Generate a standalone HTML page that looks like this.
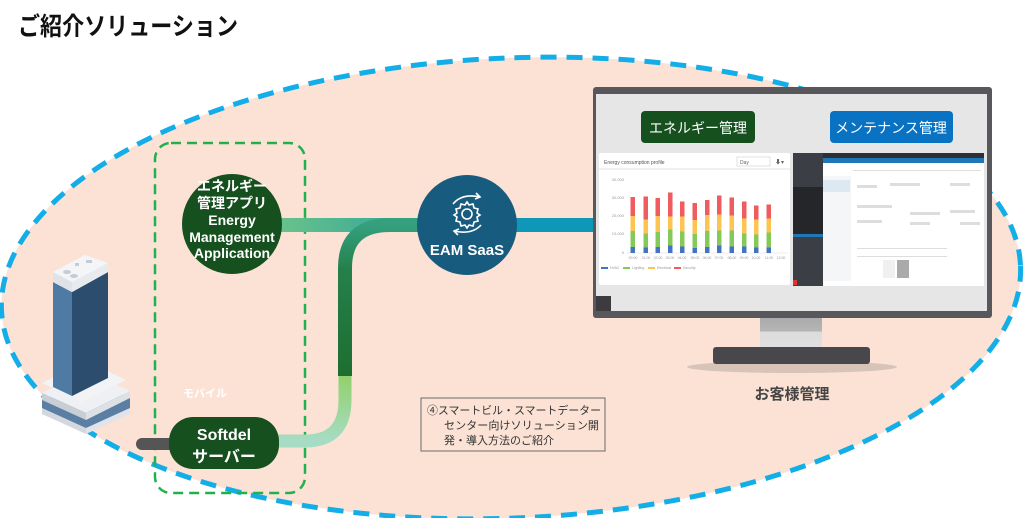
<!DOCTYPE html>
<html><head><meta charset="utf-8"><style>
html,body{margin:0;padding:0;background:#fff;width:1024px;height:518px;overflow:hidden;}
svg{display:block;}
text{font-family:"Liberation Sans","Noto Sans CJK JP",sans-serif;}
</style></head><body>
<svg width="1024" height="518" viewBox="0 0 1024 518" xmlns="http://www.w3.org/2000/svg">
<defs>
<linearGradient id="gTop" x1="0" x2="1" y1="0" y2="0">
<stop offset="0" stop-color="#6cc38a"/><stop offset="1" stop-color="#2aa39c"/></linearGradient>
<linearGradient id="gVert" x1="0" x2="0" y1="0" y2="1">
<stop offset="0" stop-color="#35a07e"/><stop offset="0.3" stop-color="#24804a"/><stop offset="1" stop-color="#1e6e30"/></linearGradient>
<linearGradient id="gBot" x1="0" x2="0" y1="0" y2="1">
<stop offset="0" stop-color="#93d06c"/><stop offset="1" stop-color="#a6dcc4"/></linearGradient>
<linearGradient id="neck" x1="0" x2="0" y1="0" y2="1">
<stop offset="0" stop-color="#aaaaaa"/><stop offset="0.45" stop-color="#b5b5b5"/><stop offset="0.46" stop-color="#dcdcdc"/><stop offset="1" stop-color="#e0e0e0"/></linearGradient>
</defs>

<text x="18" y="35" font-size="25" font-weight="bold" fill="#111" textLength="220" lengthAdjust="spacingAndGlyphs">ご紹介ソリューション</text>

<ellipse cx="511" cy="288" rx="510" ry="230" transform="rotate(-2.5 511 288)" fill="#fbe2d5" stroke="#13aee8" stroke-width="5" stroke-dasharray="16 10"/>

<!-- green dashed box -->
<rect x="155" y="143" width="150" height="350" rx="16" fill="none" stroke="#22b04c" stroke-width="2.5" stroke-dasharray="10 6"/>

<!-- connectors -->
<rect x="275" y="218" width="150" height="14" fill="url(#gTop)"/>
<path d="M345 376 V268 Q345 225 390 225 H425" fill="none" stroke="url(#gVert)" stroke-width="14"/>
<path d="M345 376 V400 Q345 441 305 441 H275" fill="none" stroke="url(#gBot)" stroke-width="13"/>
<rect x="510" y="218" width="90" height="14" fill="#0f97b7"/>

<!-- energy app circle -->
<circle cx="232" cy="224" r="50" fill="#17501f"/>
<g fill="#fff" font-size="14" font-weight="bold" text-anchor="middle">
<text x="232" y="191">エネルギー</text>
<text x="232" y="208">管理アプリ</text>
<text x="232" y="225">Energy</text>
<text x="232" y="242">Management</text>
<text x="232" y="258">Application</text>
</g>

<text x="183" y="397" font-size="11" font-weight="bold" fill="#fff">モバイル</text>

<!-- softdel -->
<rect x="136" y="438" width="40" height="12" rx="6" fill="#555"/>
<rect x="169" y="417" width="110" height="52" rx="24" fill="#17501f"/>
<text x="224" y="440" font-size="16" font-weight="bold" fill="#fff" text-anchor="middle">Softdel</text>
<text x="224" y="462" font-size="16" font-weight="bold" fill="#fff" text-anchor="middle">サーバー</text>

<!-- EAM -->
<circle cx="467" cy="225" r="50" fill="#175c7e"/>
<g stroke="#fff" stroke-width="1.6" fill="none">
<circle cx="467" cy="214" r="5"/>
<path d="M467 202 l2 3 4-1 1 4 4 1 -1 4 3 2 -3 2 1 4 -4 1 -1 4 -4 -1 -2 3 -2 -3 -4 1 -1 -4 -4 -1 1 -4 -3 -2 3 -2 -1 -4 4 -1 1 -4 4 1z"/>
<path d="M453 204 Q462 193 480 197"/><path d="M476 193 l4 4 -5 2"/>
<path d="M481 225 Q472 235 454 231"/><path d="M458 235 l-4 -4 5 -2"/>
</g>
<text x="467" y="255" font-size="15" font-weight="bold" fill="#fff" text-anchor="middle">EAM SaaS</text>

<!-- building -->
<g>
<polygon points="42,400 86,378 130,398 130,412 86,432 42,414" fill="#5a7fa3"/>
<polygon points="42,393 86,371 130,391 86,413" fill="#eef0f3"/>
<polygon points="42,393 86,413 86,420 42,400" fill="#c9ced6"/>
<polygon points="86,413 130,391 130,398 86,420" fill="#dde1e6"/>
<polygon points="42,408 86,428 86,434 42,414" fill="#d4d8de"/>
<polygon points="86,428 130,408 130,414 86,434" fill="#e0e4ea"/>
<polygon points="42,383 86,361 126,380 82,402" fill="#f2f3f5"/>
<polygon points="53,282 72,292 72,396 53,387" fill="#4e7aa4"/>
<polygon points="72,292 108,272 108,378 72,396" fill="#2d4d6e"/>
<polygon points="53,272 85,255 108,263 108,272 72,292 53,282" fill="#f4f5f7"/>
<polygon points="53,272 72,282 72,292 53,282" fill="#dfe3e8"/>
<polygon points="72,282 108,263 108,272 72,292" fill="#e7eaee"/>
<ellipse cx="67" cy="272" rx="4" ry="2" fill="#c7ccd3"/>
<ellipse cx="74" cy="276" rx="4" ry="2" fill="#c7ccd3"/>
<rect x="75" y="263" width="4" height="3" fill="#c7ccd3"/><rect x="86" y="260" width="6" height="3" fill="#c7ccd3"/>
</g>

<!-- monitor -->
<ellipse cx="792" cy="367" rx="105" ry="6" fill="#c9b7ad" opacity="0.7"/>
<rect x="760" y="317" width="62" height="32" fill="url(#neck)"/>
<rect x="713" y="347" width="157" height="17" rx="3" fill="#48484c"/>
<rect x="593" y="87" width="399" height="231" rx="3" fill="#58585c"/>
<rect x="596" y="94" width="391" height="217" fill="#e6e6e6"/>
<rect x="596" y="296" width="15" height="15" fill="#3c3c40"/>
<rect x="641" y="111" width="114" height="32" rx="4" fill="#17501f"/>
<text x="698" y="133" font-size="14" fill="#fff" text-anchor="middle">エネルギー管理</text>
<rect x="830" y="111" width="123" height="32" rx="4" fill="#0a72c2"/>
<text x="891" y="133" font-size="14" fill="#fff" text-anchor="middle">メンテナンス管理</text>

<!-- chart panel -->
<rect x="599" y="153" width="191" height="132" rx="2" fill="#fff"/>
<line x1="599" y1="169" x2="790" y2="169" stroke="#e2e2e2"/>
<text x="604" y="164" font-size="5" fill="#555">Energy consumption profile</text>
<rect x="737" y="157" width="33" height="9" fill="#fff" stroke="#ccc" stroke-width="0.6"/>
<text x="740" y="164" font-size="5" fill="#666">Day</text>
<text x="775" y="164" font-size="6" fill="#666">⬇▾</text>
<g font-size="4" fill="#999" text-anchor="end">
<text x="624" y="181">40,000</text><text x="624" y="199">30,000</text><text x="624" y="217">20,000</text><text x="624" y="235">10,000</text><text x="624" y="254">0</text>
</g>
<line x1="627" y1="253" x2="788" y2="253" stroke="#ddd" stroke-width="0.5"/>
<g>
<rect x="630.5" y="197" width="4.5" height="19" fill="#ef5b5e"/><rect x="630.5" y="216" width="4.5" height="15" fill="#fdc452"/><rect x="630.5" y="231" width="4.5" height="16" fill="#86c95b"/><rect x="630.5" y="247" width="4.5" height="6" fill="#4473c4"/>
<rect x="643.5" y="196.5" width="4.5" height="23" fill="#ef5b5e"/><rect x="643.5" y="219.5" width="4.5" height="14" fill="#fdc452"/><rect x="643.5" y="233.5" width="4.5" height="14" fill="#86c95b"/><rect x="643.5" y="247.5" width="4.5" height="5.5" fill="#4473c4"/>
<rect x="655.5" y="198" width="4.5" height="18" fill="#ef5b5e"/><rect x="655.5" y="216" width="4.5" height="16" fill="#fdc452"/><rect x="655.5" y="232" width="4.5" height="15" fill="#86c95b"/><rect x="655.5" y="247" width="4.5" height="6" fill="#4473c4"/>
<rect x="668" y="192.5" width="4.5" height="24" fill="#ef5b5e"/><rect x="668" y="216.5" width="4.5" height="13" fill="#fdc452"/><rect x="668" y="229.5" width="4.5" height="16" fill="#86c95b"/><rect x="668" y="245.5" width="4.5" height="7.5" fill="#4473c4"/>
<rect x="680" y="201.5" width="4.5" height="15" fill="#ef5b5e"/><rect x="680" y="216.5" width="4.5" height="15" fill="#fdc452"/><rect x="680" y="231.5" width="4.5" height="15" fill="#86c95b"/><rect x="680" y="246.5" width="4.5" height="6.5" fill="#4473c4"/>
<rect x="692.5" y="203" width="4.5" height="17" fill="#ef5b5e"/><rect x="692.5" y="220" width="4.5" height="14" fill="#fdc452"/><rect x="692.5" y="234" width="4.5" height="14" fill="#86c95b"/><rect x="692.5" y="248" width="4.5" height="5" fill="#4473c4"/>
<rect x="705" y="200" width="4.5" height="15" fill="#ef5b5e"/><rect x="705" y="215" width="4.5" height="16" fill="#fdc452"/><rect x="705" y="231" width="4.5" height="16" fill="#86c95b"/><rect x="705" y="247" width="4.5" height="6" fill="#4473c4"/>
<rect x="717" y="195.5" width="4.5" height="19" fill="#ef5b5e"/><rect x="717" y="214.5" width="4.5" height="16" fill="#fdc452"/><rect x="717" y="230.5" width="4.5" height="15" fill="#86c95b"/><rect x="717" y="245.5" width="4.5" height="7.5" fill="#4473c4"/>
<rect x="729.5" y="197.5" width="4.5" height="18" fill="#ef5b5e"/><rect x="729.5" y="215.5" width="4.5" height="15" fill="#fdc452"/><rect x="729.5" y="230.5" width="4.5" height="16" fill="#86c95b"/><rect x="729.5" y="246.5" width="4.5" height="6.5" fill="#4473c4"/>
<rect x="742" y="201.5" width="4.5" height="17" fill="#ef5b5e"/><rect x="742" y="218.5" width="4.5" height="15" fill="#fdc452"/><rect x="742" y="233.5" width="4.5" height="13" fill="#86c95b"/><rect x="742" y="246.5" width="4.5" height="6.5" fill="#4473c4"/>
<rect x="754" y="205.5" width="4.5" height="14" fill="#ef5b5e"/><rect x="754" y="219.5" width="4.5" height="15" fill="#fdc452"/><rect x="754" y="234.5" width="4.5" height="13" fill="#86c95b"/><rect x="754" y="247.5" width="4.5" height="5.5" fill="#4473c4"/>
<rect x="766.5" y="204.5" width="4.5" height="14" fill="#ef5b5e"/><rect x="766.5" y="218.5" width="4.5" height="14" fill="#fdc452"/><rect x="766.5" y="232.5" width="4.5" height="15" fill="#86c95b"/><rect x="766.5" y="247.5" width="4.5" height="5.5" fill="#4473c4"/>
</g>
<g font-size="3.5" fill="#999" text-anchor="middle">
<text x="633" y="259">00:00</text><text x="646" y="259">01:00</text><text x="658" y="259">02:00</text><text x="670" y="259">03:00</text><text x="682" y="259">04:00</text><text x="695" y="259">05:00</text><text x="707" y="259">06:00</text><text x="719" y="259">07:00</text><text x="732" y="259">08:00</text><text x="744" y="259">09:00</text><text x="756" y="259">10:00</text><text x="769" y="259">11:00</text><text x="781" y="259">12:00</text>
</g>
<rect x="601" y="267" width="7" height="2" fill="#4473c4"/><rect x="623" y="267" width="7" height="2" fill="#86c95b"/><rect x="648" y="267" width="7" height="2" fill="#fdc452"/><rect x="674" y="267" width="7" height="2" fill="#ef5b5e"/>
<g font-size="3.5" fill="#999"><text x="610" y="269">HVAC</text><text x="632" y="269">Lighting</text><text x="657" y="269">Electrical</text><text x="683" y="269">Security</text></g>

<!-- app screenshot -->
<rect x="793" y="153" width="191" height="133" fill="#fff"/>
<rect x="793" y="153" width="191" height="5" fill="#2e3035"/>
<rect x="793" y="153" width="30" height="133" fill="#3b3e44"/>
<rect x="793" y="187" width="30" height="47" fill="#24262a"/>
<rect x="793" y="234" width="30" height="3" fill="#1e78b8"/>
<rect x="793" y="280" width="4" height="5" fill="#d33"/>
<rect x="823" y="158" width="161" height="5" fill="#1e78b8"/>
<rect x="823" y="176" width="28" height="105" fill="#f4f6f8"/>
<rect x="823" y="180" width="27" height="12" fill="#dce8f2"/>
<g fill="#ddd">
<rect x="853" y="170" width="128" height="1"/>
<rect x="857" y="185" width="20" height="3"/><rect x="890" y="183" width="30" height="3"/><rect x="950" y="183" width="20" height="3"/>
<rect x="857" y="205" width="35" height="3"/><rect x="910" y="212" width="30" height="3"/><rect x="950" y="210" width="25" height="3"/>
<rect x="857" y="220" width="25" height="3"/><rect x="910" y="222" width="20" height="3"/><rect x="960" y="222" width="20" height="3"/>
<rect x="857" y="248" width="90" height="1"/><rect x="857" y="256" width="90" height="1"/>
</g>
<rect x="883" y="260" width="12" height="18" fill="#f0f0f0"/><rect x="897" y="260" width="12" height="18" fill="#aaa"/>

<!-- text box -->
<rect x="421" y="398" width="184" height="53" fill="none" stroke="#6a6a6a" stroke-width="1"/>
<g font-size="11" fill="#333">
<text x="427" y="414" textLength="174" lengthAdjust="spacingAndGlyphs">④スマートビル・スマートデーター</text>
<text x="444" y="429" textLength="155" lengthAdjust="spacingAndGlyphs">センター向けソリューション開</text>
<text x="444" y="444">発・導入方法のご紹介</text>
</g>
<text x="792" y="399" font-size="15" font-weight="bold" fill="#444" text-anchor="middle">お客様管理</text>
</svg>
</body></html>
